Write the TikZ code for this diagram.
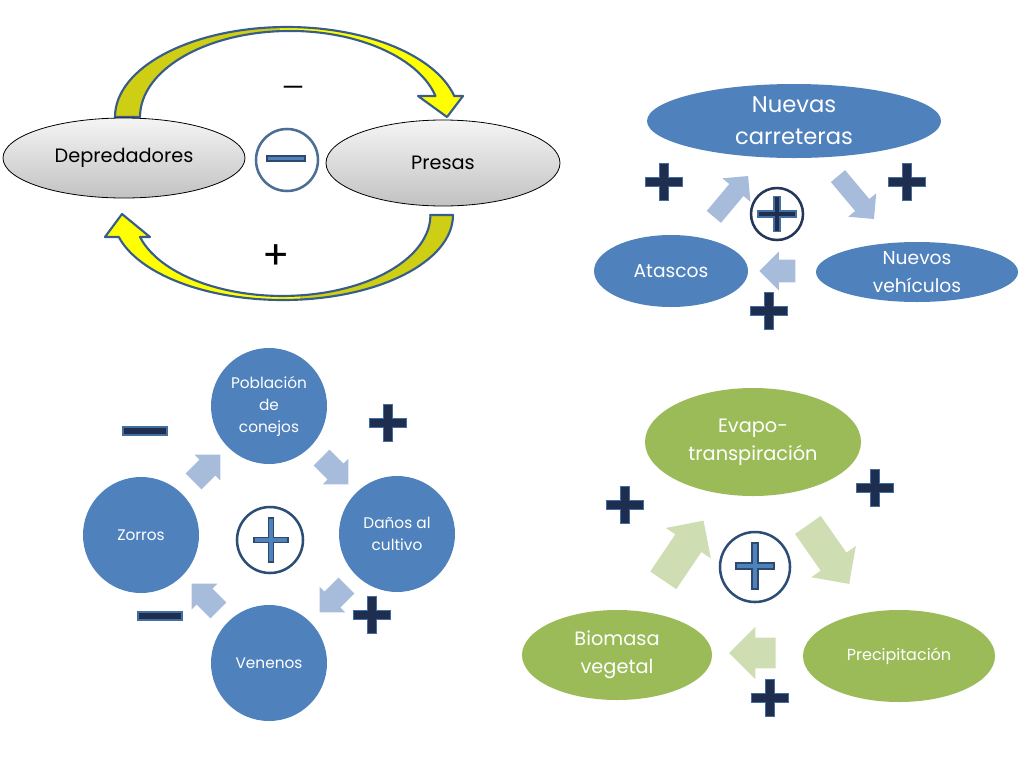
\documentclass[tikz,border=0pt]{standalone}
\usepackage{fontspec}
\setmainfont{Poppins}
\usetikzlibrary{shapes.geometric,shapes.arrows}

\definecolor{azul}{RGB}{79,129,189}
\definecolor{azulclaro}{RGB}{167,187,219}
\definecolor{azulborde}{RGB}{56,93,138}
\definecolor{marino}{RGB}{31,46,78}
\definecolor{circulo}{RGB}{44,77,117}
\definecolor{verde}{RGB}{155,187,89}
\definecolor{verdeclaro}{RGB}{207,221,178}
\definecolor{amarillo}{RGB}{255,255,0}
\definecolor{oliva}{RGB}{206,206,20}

% plus sign: style, x, y, half width, half height, half thickness
\newcommand{\cruz}[6]{%
  \draw[#1] (#2-#4,#3-#6) -- (#2-#6,#3-#6) -- (#2-#6,#3-#5) -- (#2+#6,#3-#5)
    -- (#2+#6,#3-#6) -- (#2+#4,#3-#6) -- (#2+#4,#3+#6) -- (#2+#6,#3+#6)
    -- (#2+#6,#3+#5) -- (#2-#6,#3+#5) -- (#2-#6,#3+#6) -- (#2-#4,#3+#6) -- cycle;}
% minus sign: style, x, y, half width, half thickness
\newcommand{\raya}[5]{\draw[#1] (#2-#4,#3-#5) rectangle (#2+#4,#3+#5);}

\newcommand{\arcoarriba}{(115,117) arc[start angle=180, end angle=346.5, x radius=172, y radius=90]
  -- (463,96) -- (447,117) -- (418,96) -- (435.5,96)
  arc[start angle=345.9, end angle=180, x radius=150, y radius=86] -- cycle}
\newcommand{\arcoabajo}{(430,215) -- (453,215) arc[start angle=0, end angle=165, x radius=170, y radius=85]
  -- (105,237) -- (122,214) -- (150,237) -- (140,237)
  arc[start angle=164.2, end angle=0, x radius=148, y radius=81] -- cycle}

\tikzset{
  gris/.style={ellipse, draw=black, line width=0.6pt, top color=black!4, bottom color=black!24, inner sep=0pt},
  burbuja/.style={ellipse, fill=azul, inner sep=0pt},
  hoja/.style={ellipse, fill=verde, inner sep=0pt},
  bola/.style={circle, fill=azul, text=white, inner sep=0pt, minimum size=87pt, align=center,
    font=\fontsize{11.5}{16.5}\selectfont},
  etiqueta/.style={text=white, align=center},
  flecha/.style={single arrow, draw=none, inner xsep=0pt, single arrow tip angle=90},
  anillo/.style={circle, draw=circulo, fill=white, line width=1.9pt, inner sep=0pt},
  signo/.style={fill=marino, draw=azul!85!black, line width=1.1pt},
  signoazul/.style={fill=azul, draw=azulborde!80!black, line width=1pt},
  curva/.style={draw=azulborde, line width=1.6pt, line join=round}
}

\begin{document}
\begin{tikzpicture}[x=0.75pt,y=0.75pt,yscale=-1,xscale=1]
\useasboundingbox (0,0) rectangle (1024,768);

%Curve Lines: arrow above
\fill[amarillo] \arcoarriba;
\begin{scope}
\clip (0,0) rectangle (280,130);
\fill[oliva] \arcoarriba;
\end{scope}
\draw[curva] \arcoarriba;
%Curve Lines: arrow below
\fill[amarillo] \arcoabajo;
\begin{scope}
\clip (300,200) rectangle (480,310);
\fill[oliva] \arcoabajo;
\end{scope}
\draw[curva] \arcoabajo;

%Shape: Ellipse
\node[gris, minimum width=181.5pt, minimum height=60pt, font=\fontsize{14.5}{18}\selectfont] (depredadores) at (124,158) {Depredadores};
\node[gris, minimum width=175.5pt, minimum height=64.5pt, font=\fontsize{14.5}{18}\selectfont] (presas) at (443,163) {Presas};
%Shape: Circle
\node[anillo, draw=azulborde!90!white, minimum size=46.5pt] (signo1) at (287,160) {};
\raya{signoazul}{286}{158.5}{19}{2.6}

% Text Node
\node[font=\fontsize{19}{19}\selectfont] (menos1) at (293,91) {—};
\node[font=\fontsize{30}{30}\selectfont] (mas1) at (276,257) {+};

%Shape: Ellipse
\node[burbuja, minimum width=220.5pt, minimum height=55.5pt,
  label={[etiqueta, font=\fontsize{17}{24}\selectfont]center:Nuevas\\carreteras}] (carreteras) at (794,121) {};
\node[burbuja, minimum width=115.5pt, minimum height=54pt,
  label={[etiqueta, font=\fontsize{14}{21}\selectfont]center:Atascos}] (atascos) at (671,271) {};
\node[burbuja, minimum width=151.5pt, minimum height=45pt,
  label={[etiqueta, font=\fontsize{14}{21}\selectfont]center:Nuevos\\vehículos}] (vehiculos) at (917,272) {};
%Block Arrows
\node[flecha, fill=azulclaro, minimum height=40pt, inner ysep=6.75pt, single arrow head extend=6.75pt, rotate=50] (f21) at (728,200) {};
\node[flecha, fill=azulclaro, minimum height=42pt, inner ysep=6.75pt, single arrow head extend=6.75pt, rotate=-50] (f22) at (853,194) {};
\node[flecha, fill=azulclaro, minimum height=27pt, inner ysep=8.25pt, single arrow head extend=6.25pt, rotate=180] (f23) at (783,271) {};
%Shape: Circle
\node[anillo, draw=marino!90!azul, minimum size=39pt] (signo2) at (777,214) {};
\cruz{signo}{777}{214}{19}{17.5}{3.2}
\cruz{signo}{664}{182}{18.5}{18.5}{4.3}
\cruz{signo}{907}{182}{18.5}{18.5}{4.3}
\cruz{signo}{769}{311}{18.5}{18.5}{4.3}

%Shape: Circle
\node[bola] (conejos) at (269,406) {Población\\de\\conejos};
\node[bola] (danos) at (397,534) {Daños al\\cultivo};
\node[bola] (venenos) at (269,663) {Venenos};
\node[bola] (zorros) at (141,535) {Zorros};
%Block Arrows
\foreach \nombre/\px/\py/\giro in {f31/203/472/45, f32/331/467/-45, f33/337/595/-135, f34/209/601/135}
  \node[flecha, fill=azulclaro, minimum height=28.5pt, inner ysep=8.25pt, single arrow head extend=5.25pt, rotate=\giro] (\nombre) at (\px,\py) {};
%Shape: Circle
\node[anillo, minimum size=49.5pt] (signo3) at (270,540) {};
\cruz{signoazul}{271}{540}{17}{22}{2.8}
\raya{signo}{145}{431}{22}{4}
\raya{signo}{160}{616}{22}{4}
\cruz{signo}{388}{423}{18.5}{18.5}{4.3}
\cruz{signo}{372}{615}{18.5}{18.5}{4.3}

%Shape: Ellipse
\node[hoja, minimum width=162pt, minimum height=81pt,
  label={[etiqueta, font=\fontsize{14.5}{21}\selectfont]center:Evapo-\\transpiración}] (evapo) at (753,442) {};
\node[hoja, minimum width=142.5pt, minimum height=67.5pt,
  label={[etiqueta, font=\fontsize{14.5}{21}\selectfont]center:Biomasa\\vegetal}] (biomasa) at (617,655) {};
\node[hoja, minimum width=144pt, minimum height=69pt,
  label={[etiqueta, font=\fontsize{12}{16}\selectfont]center:Precipitación}] (lluvia) at (899,656) {};
%Block Arrows
\node[flecha, fill=verdeclaro, minimum height=54pt, inner ysep=11.6pt, single arrow head extend=8.6pt, rotate=56] (f41) at (679,557) {};
\node[flecha, fill=verdeclaro, minimum height=54pt, inner ysep=11.6pt, single arrow head extend=8.6pt, rotate=-55] (f42) at (824,548) {};
\node[flecha, fill=verdeclaro, minimum height=35pt, inner ysep=11.25pt, single arrow head extend=8.25pt, rotate=180] (f43) at (760,653) {};
%Shape: Circle
\node[anillo, minimum size=52.5pt] (signo4) at (755,567) {};
\cruz{signoazul}{755}{566}{19}{23}{2.9}
\cruz{signo}{625}{505}{18.5}{18.5}{4.3}
\cruz{signo}{875}{488}{18.5}{18.5}{4.3}
\cruz{signo}{770}{698}{18.5}{18.5}{4.3}

\end{tikzpicture}
\end{document}
